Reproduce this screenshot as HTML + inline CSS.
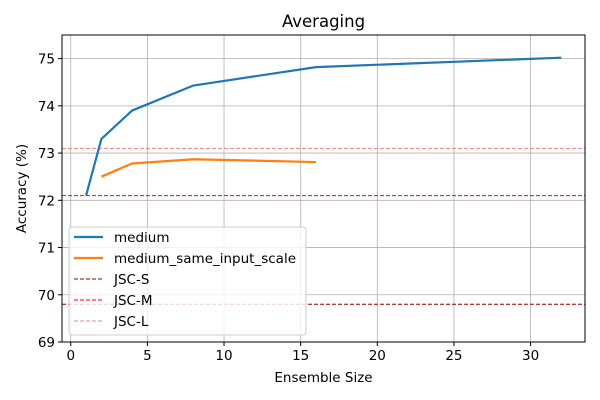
<!DOCTYPE html>
<html><head><meta charset="utf-8"><style>
body{margin:0;background:#fff;}
svg{display:block;font-family:"DejaVu Sans","Liberation Sans",sans-serif;}
</style></head><body>
<svg id="chart" width="600" height="400">
<rect width="600" height="400" fill="#fff"/>
<g id="grid"></g>
<g id="refs"></g>
<g id="series"></g>
<rect x="62" y="35" width="523" height="307" fill="none" stroke="#000" stroke-width="1"/>
<g id="xticks"></g><g id="yticks"></g>
<text x="323.5" y="27" text-anchor="middle" font-size="16.5">Averaging</text>
<text x="323.5" y="382" text-anchor="middle" font-size="13.5">Ensemble Size</text>
<text transform="translate(26,188.5) rotate(-90)" text-anchor="middle" font-size="13.5">Accuracy (%)</text>
<g id="legend"></g>
</svg>
<script>
const xTicks=[0,5,10,15,20,25,30];
const yTicks=[69,70,71,72,73,74,75];
const mediumX=[1,2,4,8,16,32];
const mediumY=[72.1,73.3,73.9,74.43,74.82,75.02];
const sameX=[2,4,8,16];
const sameY=[72.5,72.78,72.87,72.81];
const refNames=["JSC-S","JSC-M","JSC-L"];
const refValues=[69.8,72.1,73.1];
const refColors=["#8b0000","#ff0000","#f08080"];
const L=62,R=585,T=35,B=342;
const xmin=-0.57,xmax=33.55,ymin=69,ymax=75.5;
const sx=v=>L+(v-xmin)/(xmax-xmin)*(R-L);
const sy=v=>B-(v-ymin)/(ymax-ymin)*(B-T);
const NS="http://www.w3.org/2000/svg";
function mk(p,t,a){const e=document.createElementNS(NS,t);for(const k in a)e.setAttribute(k,a[k]);p.appendChild(e);return e;}
const grid=document.getElementById('grid'),xt=document.getElementById('xticks'),yt=document.getElementById('yticks');
xTicks.forEach(v=>{const x=sx(v);
 const g=mk(grid,'line',{x1:x,x2:x,y1:T,y2:B,stroke:'#b0b0b0','stroke-width':0.8});
 
 
 mk(xt,'line',{x1:x,x2:x,y1:B,y2:B+4,stroke:'#000'});
 const t=mk(xt,'text',{x:x,y:B+18,'text-anchor':'middle','font-size':13.5});t.textContent=v;
 
 
});
yTicks.forEach(v=>{const y=sy(v);
 const g=mk(grid,'line',{x1:L,x2:R,y1:y,y2:y,stroke:'#b0b0b0','stroke-width':0.8});
 
 
 mk(yt,'line',{x1:L-4,x2:L,y1:y,y2:y,stroke:'#000'});
 const t=mk(yt,'text',{x:L-7,y:y+5,'text-anchor':'end','font-size':13.5});t.textContent=v;
 
 
});
const refs=document.getElementById('refs');
refValues.forEach((v,i)=>{
 const l=mk(refs,'line',{x1:L,x2:R,y1:sy(v),y2:sy(v),stroke:refColors[i],'stroke-width':1,'stroke-dasharray':'4,2'});
 
 
});
const ser=document.getElementById('series');
function line(xs,ys,c,n){const p=mk(ser,'polyline',{points:xs.map((x,i)=>sx(x)+','+sy(ys[i])).join(' '),fill:'none',stroke:c,'stroke-width':2.2,'stroke-linejoin':'round'});
 
 }
line(mediumX,mediumY,'#1f77b4','medium-line');
line(sameX,sameY,'#ff7f0e','medium-same-input-scale-line');
const lg=document.getElementById('legend');
const box=mk(lg,'rect',{x:69,y:227,width:237,height:108,rx:3,fill:'#fff','fill-opacity':0.8,stroke:'#ccc'});


const items=[["medium","#1f77b4",0],["medium_same_input_scale","#ff7f0e",0]].concat(refNames.map((n,i)=>[n,refColors[i],1]));
items.forEach((it,i)=>{const y=237+i*21;
 mk(lg,'line',{x1:74,x2:103,y1:y,y2:y,stroke:it[1],'stroke-width':it[2]?1:2.2,'stroke-dasharray':it[2]?'4,2':'none'});
 const t=mk(lg,'text',{x:114,y:y+5,'font-size':13.5});t.textContent=it[0];
 
 
});
</script>
</body></html>
